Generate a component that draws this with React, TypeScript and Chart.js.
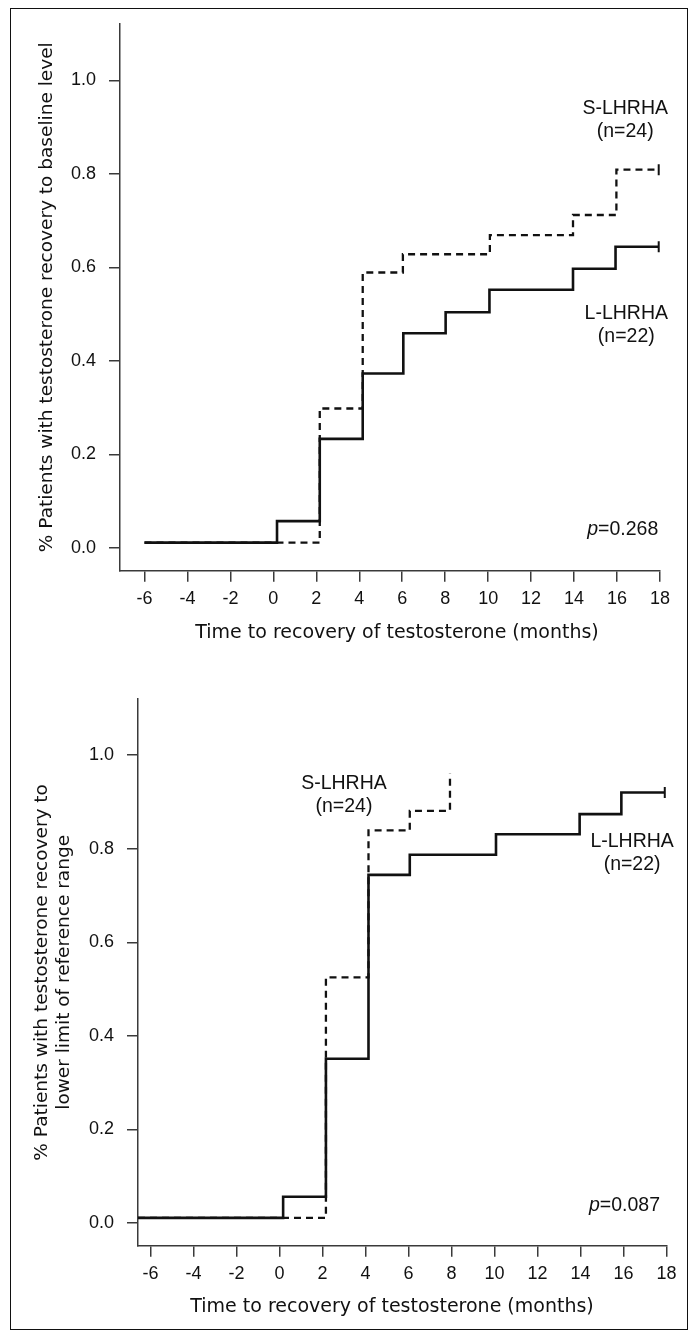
import React, { useEffect, useRef } from 'react';
import { Chart, registerables } from 'chart.js';

Chart.register(...registerables);

// ---------- data ----------
// Top panel: recovery to baseline level
const topLongMonths = [-6, 0.17, 2.16, 4.16, 6.05, 8.02, 10.06, 13.95, 15.93, 17.94];
const topLongValues = [0.011, 0.057, 0.233, 0.373, 0.459, 0.504, 0.552, 0.597, 0.644, 0.644];
const topShortMonths = [-6, 2.16, 4.16, 6.03, 10.08, 13.95, 15.97, 17.94];
const topShortValues = [0.011, 0.298, 0.589, 0.628, 0.669, 0.712, 0.809, 0.809];

// Bottom panel: recovery to lower limit of reference range
const bottomLongMonths = [-6.58, 0.17, 2.16, 4.14, 6.06, 10.07, 13.96, 15.9, 17.92];
const bottomLongValues = [0.011, 0.056, 0.351, 0.744, 0.787, 0.831, 0.874, 0.92, 0.92];
const bottomShortMonths = [-6.58, 2.16, 4.14, 6.06, 7.93];
const bottomShortValues = [0.011, 0.525, 0.839, 0.881, 0.961];

const xTickValues = [-6, -4, -2, 0, 2, 4, 6, 8, 10, 12, 14, 16, 18];
const yTickValues = [0, 0.2, 0.4, 0.6, 0.8, 1.0];

const groupLabels = ['S-LHRHA', '(n=24)', 'L-LHRHA', '(n=22)'];
const topLabelMonths = [16.38, 16.38, 16.43, 16.43];
const topLabelValues = [0.94, 0.891, 0.502, 0.451];
const bottomLabelMonths = [3.0, 3.0, 16.4, 16.4];
const bottomLabelValues = [0.94, 0.891, 0.816, 0.765];

const topPValue = '0.268';
const bottomPValue = '0.087';
const topPAt = [17.92, 0.038];
const bottomPAt = [17.7, 0.038];

const xTitle = 'Time to recovery of testosterone (months)';
const topYTitle = '% Patients with testosterone recovery to baseline level';
const bottomYTitle = ['% Patients with testosterone recovery to', 'lower limit of reference range'];

// ---------- styling ----------
const INK = '#111';
const AXIS = '#3a3a3a';
const TICK_FAMILY = "'Liberation Sans', Arial, Helvetica, sans-serif";
const TITLE_FAMILY = "'DejaVu Sans', Verdana, sans-serif";
const PAGE_W = 694;
const X_TITLE_SIZE = 19;

function series(xs: number[], ys: number[]) {
  return xs.map((x, i) => ({ x, y: ys[i] }));
}

function makeDataset(xs: number[], ys: number[], dashed: boolean, censor: boolean) {
  const n = xs.length;
  return {
    data: series(xs, ys),
    stepped: true,
    borderColor: INK,
    borderWidth: dashed ? 2.3 : 2.6,
    borderDash: dashed ? [7, 5] : [],
    fill: false,
    pointStyle: 'line',
    rotation: 90,
    pointRadius: (c: any) => (censor && c.dataIndex === n - 1 ? 5.5 : 0),
    pointBorderWidth: 2,
    pointBorderColor: INK,
    pointBackgroundColor: INK,
    pointHitRadius: 0,
    tension: 0,
  };
}

function annotationPlugin(
  labelX: number[],
  labelY: number[],
  pValue: string,
  pAt: number[],
  xTitleCenter: number,
  xTitleY: number
) {
  return {
    id: 'annotations',
    afterDraw(chart: any) {
      const { ctx, scales } = chart;
      const xs = scales.x;
      const ys = scales.y;
      ctx.save();
      ctx.fillStyle = INK;
      ctx.textBaseline = 'middle';
      ctx.textAlign = 'center';
      ctx.font = `19.5px ${TICK_FAMILY}`;
      groupLabels.forEach((t, i) => {
        ctx.fillText(t, xs.getPixelForValue(labelX[i]), ys.getPixelForValue(labelY[i]));
      });
      // p value: italic "p" then "=value", right aligned
      const right = xs.getPixelForValue(pAt[0]);
      const py = ys.getPixelForValue(pAt[1]);
      const rest = '=' + pValue;
      ctx.font = `19.5px ${TICK_FAMILY}`;
      const wRest = ctx.measureText(rest).width;
      ctx.font = `italic 19.5px ${TICK_FAMILY}`;
      const wP = ctx.measureText('p').width;
      ctx.textAlign = 'left';
      const start = right - wRest - wP;
      ctx.fillText('p', start, py);
      ctx.font = `19.5px ${TICK_FAMILY}`;
      ctx.fillText(rest, start + wP, py);
      // x axis title
      ctx.textAlign = 'center';
      ctx.font = `${X_TITLE_SIZE}px ${TITLE_FAMILY}`;
      ctx.fillText(xTitle, xTitleCenter, xTitleY);
      ctx.restore();
    },
  };
}

type PanelProps = {
  top: number;
  height: number;
  area: { left: number; top: number; right: number; bottom: number };
  xMin: number;
  xMax: number;
  yMin: number;
  yMax: number;
  longX: number[];
  longY: number[];
  shortX: number[];
  shortY: number[];
  shortCensor: boolean;
  yTitle: string | string[];
  yTitleCenter: number;
  yTitleLineHeight: number;
  xTitleCenter: number;
  xTitleY: number;
  labelX: number[];
  labelY: number[];
  pValue: string;
  pAt: number[];
};

function Panel(p: PanelProps) {
  const ref = useRef<HTMLCanvasElement | null>(null);
  useEffect(() => {
    if (!ref.current) return;
    const yTitleSize = 18.5;
    const chart = new Chart(ref.current, {
      type: 'line',
      data: {
        datasets: [
          makeDataset(p.longX, p.longY, false, true) as any,
          makeDataset(p.shortX, p.shortY, true, p.shortCensor) as any,
        ],
      },
      options: {
        responsive: false,
        animation: false,
        events: [],
        parsing: false as any,
        layout: { padding: { left: 0, top: p.area.top, right: PAGE_W - p.area.right, bottom: 0 } },
        plugins: { legend: { display: false }, tooltip: { enabled: false } },
        scales: {
          x: {
            type: 'linear',
            min: p.xMin,
            max: p.xMax,
            afterBuildTicks: (s: any) => {
              s.ticks = xTickValues.map((v) => ({ value: v }));
            },
            afterFit: (s: any) => {
              s.height = p.height - p.area.bottom;
            },
            grid: { drawOnChartArea: false, drawTicks: true, tickLength: 11, color: AXIS, lineWidth: 1.5 },
            border: { display: true, color: AXIS, width: 1.5 },
            ticks: {
              color: INK,
              font: { family: TICK_FAMILY, size: 18 },
              padding: 7,
              maxRotation: 0,
              autoSkip: false,
              callback: (v: any) => String(v),
            },
            title: { display: false, text: xTitle },
          },
          y: {
            type: 'linear',
            min: p.yMin,
            max: p.yMax,
            afterBuildTicks: (s: any) => {
              s.ticks = yTickValues.map((v) => ({ value: v }));
            },
            afterFit: (s: any) => {
              s.width = p.area.left;
            },
            grid: { drawOnChartArea: false, drawTicks: true, tickLength: 11, color: AXIS, lineWidth: 1.5 },
            border: { display: true, color: AXIS, width: 1.5 },
            ticks: {
              color: INK,
              font: { family: TICK_FAMILY, size: 18 },
              padding: 13,
              callback: (v: any) => Number(v).toFixed(1),
            },
            title: {
              display: true,
              text: p.yTitle as any,
              color: INK,
              font: { family: TITLE_FAMILY, size: yTitleSize, lineHeight: p.yTitleLineHeight },
              padding: { top: p.yTitleCenter - (yTitleSize * p.yTitleLineHeight) / 2, bottom: 0 },
            },
          },
        },
      } as any,
      plugins: [annotationPlugin(p.labelX, p.labelY, p.pValue, p.pAt, p.xTitleCenter, p.xTitleY)],
    });
    return () => chart.destroy();
  }, []);
  return (
    <canvas
      ref={ref}
      width={PAGE_W}
      height={p.height}
      style={{ position: 'absolute', left: 0, top: p.top, width: PAGE_W, height: p.height, display: 'block' }}
    />
  );
}

export default function App() {
  return (
    <div
      style={{
        position: 'absolute',
        left: 0,
        top: 0,
        width: PAGE_W,
        height: 1336,
        overflow: 'hidden',
        background: '#fff',
      }}
    >
      <div
        style={{
          position: 'absolute',
          left: 10,
          top: 8,
          width: 678,
          height: 1322,
          border: '1.5px solid #111',
          boxSizing: 'border-box',
        }}
      />
      <Panel
        top={0}
        height={660}
        area={{ left: 120, top: 23.3, right: 660, bottom: 570.7 }}
        xMin={-7.14}
        xMax={18}
        yMin={-0.049}
        yMax={1.121}
        longX={topLongMonths}
        longY={topLongValues}
        shortX={topShortMonths}
        shortY={topShortValues}
        shortCensor={true}
        yTitle={topYTitle}
        yTitleCenter={47}
        yTitleLineHeight={1.2}
        xTitleCenter={397}
        xTitleY={633}
        labelX={topLabelMonths}
        labelY={topLabelValues}
        pValue={topPValue}
        pAt={topPAt}
      />
      <Panel
        top={660}
        height={676}
        area={{ left: 138, top: 39, right: 666.5, bottom: 585.7 }}
        xMin={-6.58}
        xMax={18}
        yMin={-0.0485}
        yMax={1.12}
        longX={bottomLongMonths}
        longY={bottomLongValues}
        shortX={bottomShortMonths}
        shortY={bottomShortValues}
        shortCensor={false}
        yTitle={bottomYTitle}
        yTitleCenter={42.5}
        yTitleLineHeight={1.15}
        xTitleCenter={392}
        xTitleY={647}
        labelX={bottomLabelMonths}
        labelY={bottomLabelValues}
        pValue={bottomPValue}
        pAt={bottomPAt}
      />
    </div>
  );
}
